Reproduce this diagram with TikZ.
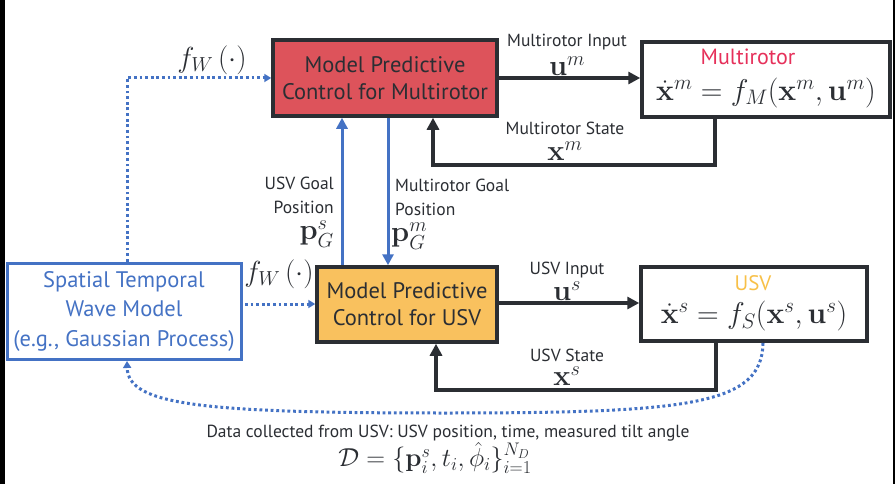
\RequirePackage{fix-cm}
\documentclass[tikz,border=0pt]{standalone}
\usepackage{amsmath}
\usepackage[no-math]{fontspec}
\setmainfont{PT Sans}
\usetikzlibrary{arrows.meta,calc}
\definecolor{dark}{HTML}{2B2E33}
\definecolor{wblue}{HTML}{4472C4}
\definecolor{redfill}{HTML}{DD535B}
\definecolor{orfill}{HTML}{F9C15E}
\definecolor{pinktxt}{HTML}{E6305A}
\definecolor{yeltxt}{HTML}{F8C047}
\begin{document}
\begin{tikzpicture}[x=1pt,y=-1pt,
  mpcbox/.style={draw=dark, line width=3.5pt, text=dark, align=center,
     font=\fontsize{22.5}{27}\selectfont, inner sep=0pt},
  plantbox/.style={draw=dark, line width=3.5pt, fill=white, inner sep=0pt},
  wavebox/.style={draw=wblue, line width=3pt, fill=white, text=wblue, align=center,
     font=\fontsize{22.5}{29.5}\selectfont, inner sep=0pt},
  lbl/.style={text=dark, font=\fontsize{17.5}{24}\selectfont, inner sep=0pt},
  mlbl/.style={text=dark, font=\fontsize{29}{32}\selectfont, inner sep=0pt},
  blkarr/.style={draw=dark, line width=3.3pt, -{Triangle[length=12pt,width=12pt]}},
  bluearr/.style={draw=wblue, line width=3pt, -{Triangle[length=11pt,width=11pt]}},
  dotarr/.style={draw=wblue, line width=3pt, dash pattern=on 2.8pt off 2.8pt,
     -{Triangle[length=7pt,width=8pt]}},
]
\useasboundingbox (0,0) rectangle (896,484);
\fill[white] (0,0) rectangle (896,484);
\fill[black] (0,0) rectangle (5,484);
\fill[black] (893,0) rectangle (895,484);

% boxes
\node[mpcbox, fill=redfill, minimum width=224pt, minimum height=76pt] (mpcm) at (385,78)
  {Model Predictive\\Control for Multirotor};
\node[mpcbox, fill=orfill, minimum width=180pt, minimum height=75pt] (mpcs) at (407,304.5)
  {Model Predictive\\Control for USV};
\node[plantbox, minimum width=248pt, minimum height=75pt] (plantm) at (766,79.5) {};
\node[plantbox, minimum width=226pt, minimum height=74pt] (plants) at (754,304) {};
\node[wavebox, minimum width=234pt, minimum height=96pt] (wave) at (124,311)
  {Spatial Temporal\\Wave Model\\(e.g., Gaussian Process)};

% plant contents
\node[text=pinktxt, font=\fontsize{22}{24}\selectfont, inner sep=0pt] (mtitle) at (748,57) {Multirotor};
\node[mlbl, font=\fontsize{30}{34}\selectfont] (meq) at (766,93)
  {$\dot{\mathbf{x}}^m = f_M(\mathbf{x}^m,\mathbf{u}^m)$};
\node[text=yeltxt, font=\fontsize{21}{24}\selectfont, inner sep=0pt] (stitle) at (753,283) {USV};
\node[mlbl, font=\fontsize{30}{34}\selectfont] (seq) at (754,316)
  {$\dot{\mathbf{x}}^s = f_S(\mathbf{x}^s,\mathbf{u}^s)$};

% coordinates
\coordinate (fbm1) at (715,165);
\coordinate (fbm2) at (433,165);
\coordinate (fbs1) at (716,390);
\coordinate (fbs2) at (436,390);
\coordinate (gsx) at (342,200);
\coordinate (gmx) at (388,200);
\coordinate (uin) at (500,303);
\coordinate (fwin) at (245,304);
\coordinate (topc) at (127,78);
\coordinate (curs) at (763,343);
\coordinate (cure) at (127,361);

% black connectors
\draw[blkarr] (mpcm.east) -- (mpcm.east -| plantm.west);
\draw[blkarr] (plantm.south -| fbm1) -- (fbm1) -- (fbm2) -- (fbm2 |- mpcm.south);
\draw[blkarr] (uin -| mpcs.east) -- (uin -| plants.west);
\draw[blkarr] (plants.south -| fbs1) -- (fbs1) -- (fbs2) -- (fbs2 |- mpcs.south);

% blue goal arrows
\draw[bluearr] (gsx |- mpcs.north) -- (gsx |- mpcm.south);
\draw[bluearr] (gmx |- mpcm.south) -- (gmx |- mpcs.north);

% dotted
\draw[dotarr] (fwin) -- (fwin -| mpcs.west);
\draw[dotarr] (topc |- wave.north) -- (topc) -- (topc -| mpcm.west);
\draw[dotarr] (curs) .. controls (762,405) and (690,413) .. (445,413)
   .. controls (200,413) and (128,405) .. (cure);

% labels
\node[lbl] (lmi) at (567,42) {Multirotor Input};
\node[mlbl] (lum) at (567,66) {$\mathbf{u}^m$};
\node[lbl] (lms) at (565,128) {Multirotor State};
\node[mlbl] (lxm) at (565,151) {$\mathbf{x}^m$};
\node[lbl] (lui) at (567,270) {USV Input};
\node[mlbl] (lus) at (567,291) {$\mathbf{u}^s$};
\node[lbl] (lss) at (567,355) {USV State};
\node[mlbl] (lxs) at (567,376) {$\mathbf{x}^s$};
\node[lbl, align=right, anchor=east] (lgs) at (334,195) {USV Goal\\Position};
\node[mlbl, anchor=east] (lpgs) at (334,234) {$\mathbf{p}_G^s$};
\node[lbl, align=left, anchor=west] (lgm) at (395,197) {Multirotor Goal\\Position};
\node[mlbl, anchor=west] (lpgm) at (391,236) {$\mathbf{p}_G^m$};
\node[mlbl] (lfw1) at (212,60) {$f_W\,(\cdot)$};
\node[mlbl] (lfw2) at (279,274) {$f_W\,(\cdot)$};
\node[lbl] (ldata) at (448,433) {Data collected from USV: USV position, time, measured tilt angle};
\node[mlbl, font=\fontsize{26}{28}\selectfont] (ldf) at (435,458)
  {$\mathcal{D}=\{\mathbf{p}_i^s,t_i,\hat{\phi}_i\}_{i=1}^{N_D}$};
\end{tikzpicture}
\end{document}
